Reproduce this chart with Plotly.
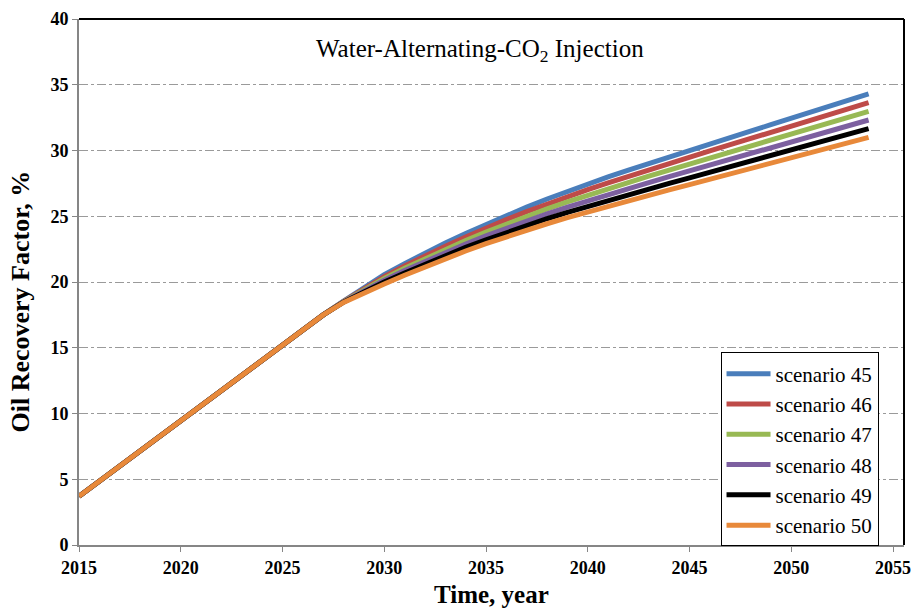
import plotly.graph_objects as go

years = [2015, 2016, 2017, 2018, 2019, 2020, 2021, 2022, 2023, 2024, 2025, 2026, 2027,
         2028, 2029, 2030, 2031, 2032, 2033, 2034, 2035, 2036, 2037, 2038, 2039, 2040,
         2041, 2042, 2043, 2044, 2045, 2046, 2047, 2048, 2049, 2050, 2051, 2052, 2053, 2053.8]

shared = [3.7, 4.85, 6.0, 7.15, 8.3, 9.45, 10.6, 11.75, 12.9, 14.05, 15.2, 16.4, 17.5]

s45 = shared + [18.55, 19.6, 20.55, 21.4, 22.2, 22.96, 23.69, 24.39, 25.06, 25.7, 26.31, 26.89, 27.45,
                27.99, 28.51, 29.02, 29.52, 30.02, 30.51, 31.0, 31.48, 31.96, 32.44, 32.92, 33.4, 33.88, 34.3]
s46 = shared + [18.53, 19.52, 20.41, 21.22, 21.99, 22.72, 23.42, 24.10, 24.74, 25.35, 25.93, 26.49, 27.03,
                27.54, 28.04, 28.53, 29.02, 29.50, 29.97, 30.44, 30.90, 31.37, 31.84, 32.31, 32.77, 33.23, 33.64]
s47 = shared + [18.51, 19.44, 20.27, 21.04, 21.78, 22.48, 23.16, 23.80, 24.42, 25.0, 25.56, 26.09, 26.60,
                27.10, 27.58, 28.05, 28.51, 28.97, 29.43, 29.88, 30.33, 30.78, 31.24, 31.69, 32.14, 32.59, 32.98]
s48 = shared + [18.49, 19.36, 20.13, 20.87, 21.57, 22.25, 22.89, 23.51, 24.09, 24.65, 25.18, 25.69, 26.18,
                26.65, 27.11, 27.56, 28.01, 28.45, 28.88, 29.32, 29.75, 30.18, 30.65, 31.08, 31.51, 31.94, 32.32]
s49 = shared + [18.47, 19.28, 19.99, 20.69, 21.36, 22.01, 22.63, 23.21, 23.77, 24.3, 24.81, 25.29, 25.75,
                26.21, 26.65, 27.08, 27.50, 27.92, 28.34, 28.76, 29.18, 29.59, 30.05, 30.46, 30.88, 31.30, 31.66]
s50 = shared + [18.45, 19.2, 19.85, 20.51, 21.15, 21.77, 22.36, 22.92, 23.45, 23.95, 24.43, 24.89, 25.33,
                25.76, 26.18, 26.59, 27.0, 27.4, 27.8, 28.2, 28.6, 29.0, 29.45, 29.85, 30.25, 30.65, 31.0]

names = ["scenario 45", "scenario 46", "scenario 47", "scenario 48", "scenario 49", "scenario 50"]
series = [s45, s46, s47, s48, s49, s50]
colors = ["#4A7EBB", "#BE4B48", "#98B954", "#7D60A0", "#000000", "#E8893A"]

x_ticks = [2015, 2020, 2025, 2030, 2035, 2040, 2045, 2050, 2055]
y_ticks = [0, 5, 10, 15, 20, 25, 30, 35, 40]

SERIF = "Liberation Serif"

fig = go.Figure()
for i, (nm, ys, c) in enumerate(zip(names, series, colors)):
    fig.add_trace(go.Scatter(x=years, y=ys, mode="lines", name=nm,
                             line=dict(color=c, width=5)))

tickfont = dict(family=SERIF, size=18, color="black", weight="bold")

fig.update_layout(
    width=918, height=611,
    margin=dict(l=79, r=7, t=19, b=66),
    paper_bgcolor="white", plot_bgcolor="white",
    font=dict(family=SERIF, color="black"),
    showlegend=True,
    legend=dict(x=0.7776, y=0.366, xanchor="left", yanchor="top",
                bgcolor="white", bordercolor="black", borderwidth=1,
                font=dict(family=SERIF, size=21, color="black"),
                itemwidth=44, traceorder="normal"),
    xaxis=dict(range=[2015, 2055.54], tickvals=x_ticks, ticktext=[str(v) for v in x_ticks],
               showgrid=False, zeroline=False, showline=True, linecolor="#868686", linewidth=2,
               ticks="outside", ticklen=5, tickcolor="#868686", tickwidth=1,
               tickfont=tickfont),
    yaxis=dict(range=[0, 40], tickvals=y_ticks, ticktext=[str(v) for v in y_ticks],
               showgrid=True, gridcolor="#9a9a9a", gridwidth=1, griddash="dashdot",
               zeroline=False, showline=True, linecolor="#868686", linewidth=2,
               ticks="outside", ticklen=5, tickcolor="#868686", tickwidth=1,
               tickfont=tickfont),
    shapes=[
        dict(type="line", xref="paper", yref="paper", x0=0, x1=1, y0=1, y1=1,
             line=dict(color="black", width=2)),
        dict(type="line", xref="paper", yref="paper", x0=1, x1=1, y0=0, y1=1,
             line=dict(color="black", width=2)),
    ],
    annotations=[
        dict(text="Water-Alternating-CO<sub>2</sub> Injection", xref="paper", yref="paper",
             x=0.4856, y=0.941, xanchor="center", yanchor="middle", showarrow=False,
             font=dict(family=SERIF, size=25, color="black")),
        dict(text="<b>Time, year</b>", xref="paper", yref="paper",
             x=0.500, y=-0.094, xanchor="center", yanchor="middle", showarrow=False,
             font=dict(family=SERIF, size=25, color="black")),
        dict(text="<b>Oil Recovery Factor, %</b>", xref="paper", yref="paper",
             x=-0.0709, y=0.462, xanchor="center", yanchor="middle", showarrow=False,
             textangle=-90, font=dict(family=SERIF, size=26, color="black")),
    ],
)

fig.write_html("out.html")
